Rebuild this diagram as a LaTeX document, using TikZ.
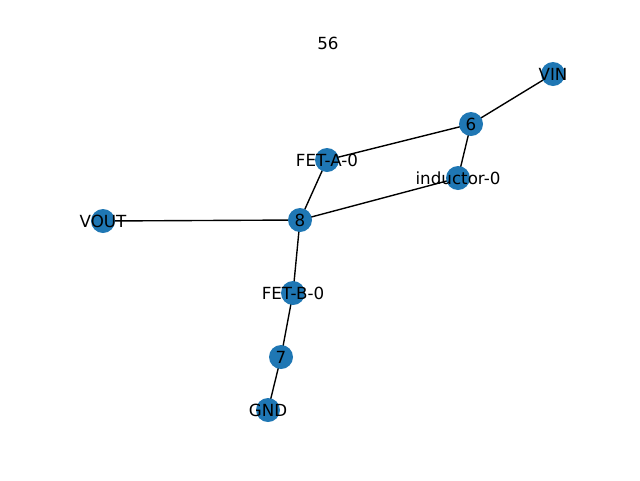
\documentclass[tikz,border=0pt]{standalone}
\usepackage{fontspec}
\setmainfont{DejaVu Sans}
\begin{document}
\begin{tikzpicture}[x=1pt,y=-1pt,
  vert/.style={circle,fill={rgb,255:red,31;green,119;blue,180},minimum size=24pt,inner sep=0pt},
  lab/.style={font=\fontsize{16.7}{18}\selectfont,inner sep=0pt},
  edge/.style={draw=black,line width=1.39pt}]
\useasboundingbox (0,0) rectangle (640,480);
\coordinate (pVIN) at (553,74);
\coordinate (p6) at (471,124);
\coordinate (pFA) at (327,160);
\coordinate (pIND) at (458,178);
\coordinate (pVOUT) at (103,221);
\coordinate (p8) at (300,220);
\coordinate (pFB) at (293,293);
\coordinate (p7) at (281,357);
\coordinate (pGND) at (268,410);
\draw[edge] (pVIN) -- (p6);
\draw[edge] (p6) -- (pFA);
\draw[edge] (p6) -- (pIND);
\draw[edge] (pFA) -- (p8);
\draw[edge] (pIND) -- (p8);
\draw[edge] (pVOUT) -- (p8);
\draw[edge] (p8) -- (pFB);
\draw[edge] (pFB) -- (p7);
\draw[edge] (p7) -- (pGND);
\foreach \p in {pVIN,p6,pFA,pIND,pVOUT,p8,pFB,p7,pGND}{\node[vert] at (\p) {};}
\node[lab] (VIN) at (pVIN) {VIN};
\node[lab] (n6) at (p6) {6};
\node[lab] (FA) at (pFA) {FET-A-0};
\node[lab] (IND) at (pIND) {inductor-0};
\node[lab] (VOUT) at (pVOUT) {VOUT};
\node[lab] (n8) at (p8) {8};
\node[lab] (FB) at (pFB) {FET-B-0};
\node[lab] (n7) at (p7) {7};
\node[lab] (GND) at (pGND) {GND};
\node[lab] (title) at (328,43) {56};
\end{tikzpicture}
\end{document}
